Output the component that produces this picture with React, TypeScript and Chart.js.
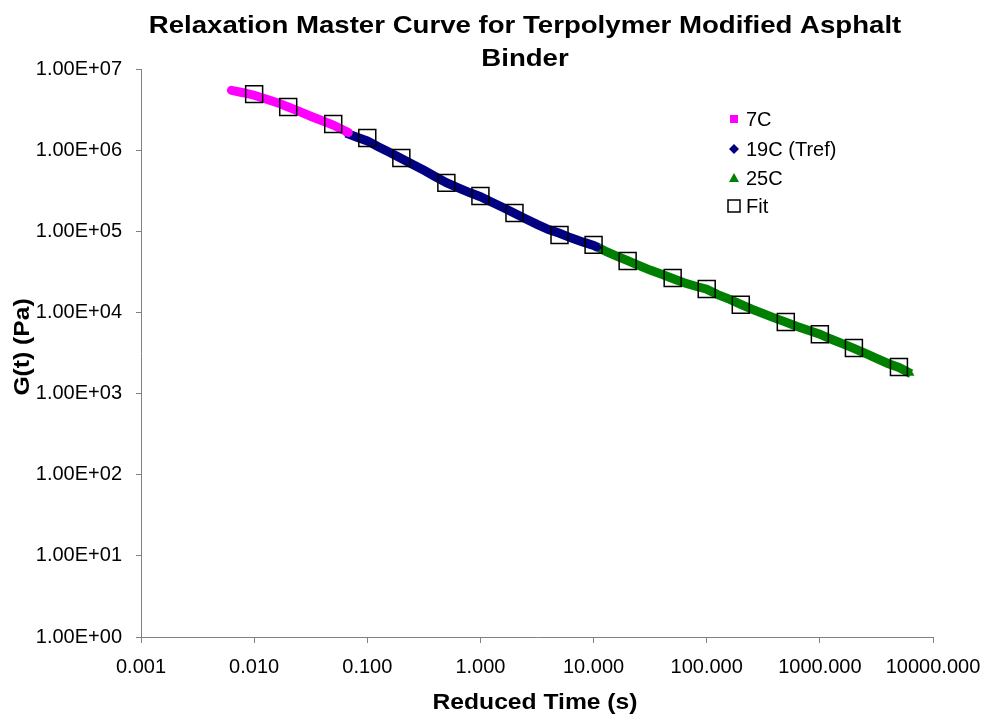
import React, { useEffect, useRef } from "react";
import { Chart, registerables } from "chart.js";

Chart.register(...registerables);

const TITLE_LINES = ["Relaxation Master Curve for Terpolymer Modified Asphalt", "Binder"];
const X_TITLE = "Reduced Time (s)";
const Y_TITLE = "G(t) (Pa)";
const X_TICKS = [0.001, 0.01, 0.1, 1, 10, 100, 1000, 10000];
const Y_TICKS = [1, 10, 100, 1e3, 1e4, 1e5, 1e6, 1e7];

const LEGEND_LABELS = ["7C", "19C (Tref)", "25C", "Fit"];

const T7_TIME = [0.0063, 0.008, 0.01, 0.0125, 0.016, 0.02, 0.025, 0.032, 0.04, 0.05, 0.06, 0.068];
const T7_G = [5.46e6, 5.1e6, 4.75e6, 4.3e6, 3.85e6, 3.4e6, 3.0e6, 2.6e6, 2.3e6, 2.04e6, 1.8e6, 1.65e6];

const T19_TIME = [0.065, 0.08, 0.1, 0.125, 0.16, 0.2, 0.25, 0.32, 0.4, 0.5, 0.63, 0.8, 1, 1.25, 1.6, 2, 2.5, 3.2, 4, 5, 6.3, 8, 10, 11];
const T19_G = [1.62e6, 1.45e6, 1.3e6, 1.1e6, 9.3e5, 7.9e5, 6.7e5, 5.6e5, 4.7e5, 3.97e5, 3.45e5, 3.0e5, 2.67e5, 2.3e5, 1.95e5, 1.67e5, 1.43e5, 1.21e5, 1.05e5, 9.44e4, 8.3e4, 7.4e4, 6.7e4, 6.3e4];

const T25_TIME = [11, 13, 16, 20, 25, 32, 40, 50, 63, 80, 100, 125, 160, 200, 250, 320, 400, 500, 630, 800, 1000, 1250, 1600, 2000, 2500, 3200, 4000, 5000, 6400];
const T25_G = [6.3e4, 5.6e4, 4.95e4, 4.35e4, 3.8e4, 3.3e4, 2.95e4, 2.62e4, 2.32e4, 2.1e4, 1.93e4, 1.66e4, 1.45e4, 1.26e4, 1.1e4, 9.6e3, 8.5e3, 7.6e3, 6.7e3, 6.0e3, 5.4e3, 4.7e3, 4.1e3, 3.6e3, 3.15e3, 2.7e3, 2.35e3, 2.1e3, 1.75e3];

const FIT_TIME = [0.01, 0.02, 0.05, 0.1, 0.2, 0.5, 1, 2, 5, 10, 20, 50, 100, 200, 500, 1000, 2000, 5000];
const FIT_G = [4.9e6, 3.4e6, 2.1e6, 1.41e6, 8.0e5, 3.95e5, 2.72e5, 1.68e5, 9.0e4, 6.8e4, 4.3e4, 2.66e4, 1.94e4, 1.24e4, 7.6e3, 5.4e3, 3.65e3, 2.13e3];

const COLOR_7C = "#FF00FF";
const COLOR_19C = "#000080";
const COLOR_25C = "#008000";
const AXIS_COLOR = "#808080";
const FONT = "Arial, 'Liberation Sans', sans-serif";

const pts = (xs: number[], ys: number[]) => xs.map((x, i) => ({ x, y: ys[i] }));

function fmtY(v: number): string {
  const e = Math.round(Math.log10(v));
  const m = v / Math.pow(10, e);
  const sign = e < 0 ? "-" : "+";
  return m.toFixed(2) + "E" + sign + String(Math.abs(e)).padStart(2, "0");
}

function drawText(ctx: CanvasRenderingContext2D, text: string, x: number, y: number, font: string, sx: number, rot = 0) {
  ctx.save();
  ctx.translate(x, y);
  if (rot) ctx.rotate(rot);
  ctx.scale(sx, 1);
  ctx.font = font;
  ctx.fillStyle = "#000";
  ctx.textAlign = "center";
  ctx.textBaseline = "middle";
  ctx.fillText(text, 0, 0);
  ctx.restore();
}

const textPlugin = {
  id: "customTexts",
  afterDraw(chart: any) {
    const ctx: CanvasRenderingContext2D = chart.ctx;
    const ca = chart.chartArea;
    const cx = (ca.left + ca.right) / 2;
    drawText(ctx, TITLE_LINES[0], cx - 12, 26, `bold 24px ${FONT}`, 1.15);
    drawText(ctx, TITLE_LINES[1], cx - 12, 59, `bold 24px ${FONT}`, 1.15);
    drawText(ctx, X_TITLE, cx - 2, 703, `bold 22px ${FONT}`, 1.12);
    drawText(ctx, Y_TITLE, 23, 347, `bold 22px ${FONT}`, 1.12, -Math.PI / 2);

    // legend
    const mx = 734;
    const tx = 746;
    const rows = [119, 149, 178, 206];
    ctx.save();
    ctx.font = `20px ${FONT}`;
    ctx.textAlign = "left";
    ctx.textBaseline = "middle";
    ctx.fillStyle = "#000";
    LEGEND_LABELS.forEach((lab, i) => ctx.fillText(lab, tx, rows[i] + 1));
    ctx.fillStyle = COLOR_7C;
    ctx.fillRect(mx - 4, rows[0] - 4, 8, 8);
    ctx.fillStyle = COLOR_19C;
    ctx.beginPath();
    ctx.moveTo(mx, rows[1] - 5);
    ctx.lineTo(mx + 5, rows[1]);
    ctx.lineTo(mx, rows[1] + 5);
    ctx.lineTo(mx - 5, rows[1]);
    ctx.closePath();
    ctx.fill();
    ctx.fillStyle = COLOR_25C;
    ctx.beginPath();
    ctx.moveTo(mx, rows[2] - 5);
    ctx.lineTo(mx + 5, rows[2] + 4);
    ctx.lineTo(mx - 5, rows[2] + 4);
    ctx.closePath();
    ctx.fill();
    ctx.strokeStyle = "#000";
    ctx.lineWidth = 1.5;
    ctx.strokeRect(mx - 6, rows[3] - 6, 12, 12);
    ctx.restore();
  },
};

export default function App() {
  const ref = useRef<HTMLCanvasElement | null>(null);

  useEffect(() => {
    if (!ref.current) return;
    const chart = new Chart(ref.current, {
      type: "scatter",
      data: {
        datasets: [
          {
            label: "Fit",
            data: pts(FIT_TIME, FIT_G),
            pointStyle: "rect",
            pointRadius: 12,
            pointBorderWidth: 1.5,
            pointBorderColor: "#000",
            pointBackgroundColor: "rgba(0,0,0,0)",
            showLine: false,
            order: 0,
          },
          {
            label: "7C",
            data: pts(T7_TIME, T7_G),
            pointStyle: "rect",
            pointRadius: 4,
            pointBorderWidth: 0,
            pointBackgroundColor: COLOR_7C,
            borderColor: COLOR_7C,
            borderWidth: 9,
            borderCapStyle: "round",
            showLine: true,
            order: 1,
          },
          {
            label: "19C (Tref)",
            data: pts(T19_TIME, T19_G),
            pointStyle: "rectRot",
            pointRadius: 4,
            pointBorderWidth: 0,
            pointBackgroundColor: COLOR_19C,
            borderColor: COLOR_19C,
            borderWidth: 9,
            borderCapStyle: "butt",
            showLine: true,
            order: 1,
          },
          {
            label: "25C",
            data: pts(T25_TIME, T25_G),
            pointStyle: "triangle",
            pointRadius: 4,
            pointBorderWidth: 0,
            pointBackgroundColor: COLOR_25C,
            borderColor: COLOR_25C,
            borderWidth: 9,
            borderCapStyle: "butt",
            showLine: true,
            order: 1,
          },
        ],
      },
      options: {
        responsive: false,
        animation: false,
        layout: { padding: { left: 0, right: 52, top: 69, bottom: 0 } },
        plugins: {
          legend: { display: false },
          title: { display: false },
          tooltip: { enabled: false },
        },
        scales: {
          x: {
            type: "logarithmic",
            min: 0.001,
            max: 10000,
            afterBuildTicks: (scale: any) => {
              scale.ticks = X_TICKS.map((v) => ({ value: v }));
            },
            afterFit: (scale: any) => {
              scale.height = 85;
              scale.paddingLeft = 0;
              scale.paddingRight = 0;
            },
            border: { display: true, color: AXIS_COLOR, width: 1 },
            grid: { display: true, drawOnChartArea: false, drawTicks: true, tickLength: 6, color: AXIS_COLOR },
            ticks: {
              autoSkip: false,
              maxRotation: 0,
              minRotation: 0,
              padding: 12,
              color: "#000",
              font: { family: FONT, size: 20 },
              callback: (v: any) => Number(v).toFixed(3),
            },
            title: { display: false },
          },
          y: {
            type: "logarithmic",
            min: 1,
            max: 1e7,
            afterBuildTicks: (scale: any) => {
              scale.ticks = Y_TICKS.map((v) => ({ value: v }));
            },
            afterFit: (scale: any) => {
              scale.width = 141;
              scale.paddingTop = 0;
              scale.paddingBottom = 0;
            },
            border: { display: true, color: AXIS_COLOR, width: 1 },
            grid: { display: true, drawOnChartArea: false, drawTicks: true, tickLength: 5, color: AXIS_COLOR },
            ticks: {
              autoSkip: false,
              padding: 14,
              color: "#000",
              font: { family: FONT, size: 20 },
              callback: (v: any) => fmtY(Number(v)),
            },
            title: { display: false },
          },
        },
      },
      plugins: [textPlugin],
    } as any);
    return () => chart.destroy();
  }, []);

  return (
    <canvas
      ref={ref}
      width={985}
      height={722}
      style={{ position: "absolute", left: 0, top: 0, display: "block" }}
    />
  );
}
